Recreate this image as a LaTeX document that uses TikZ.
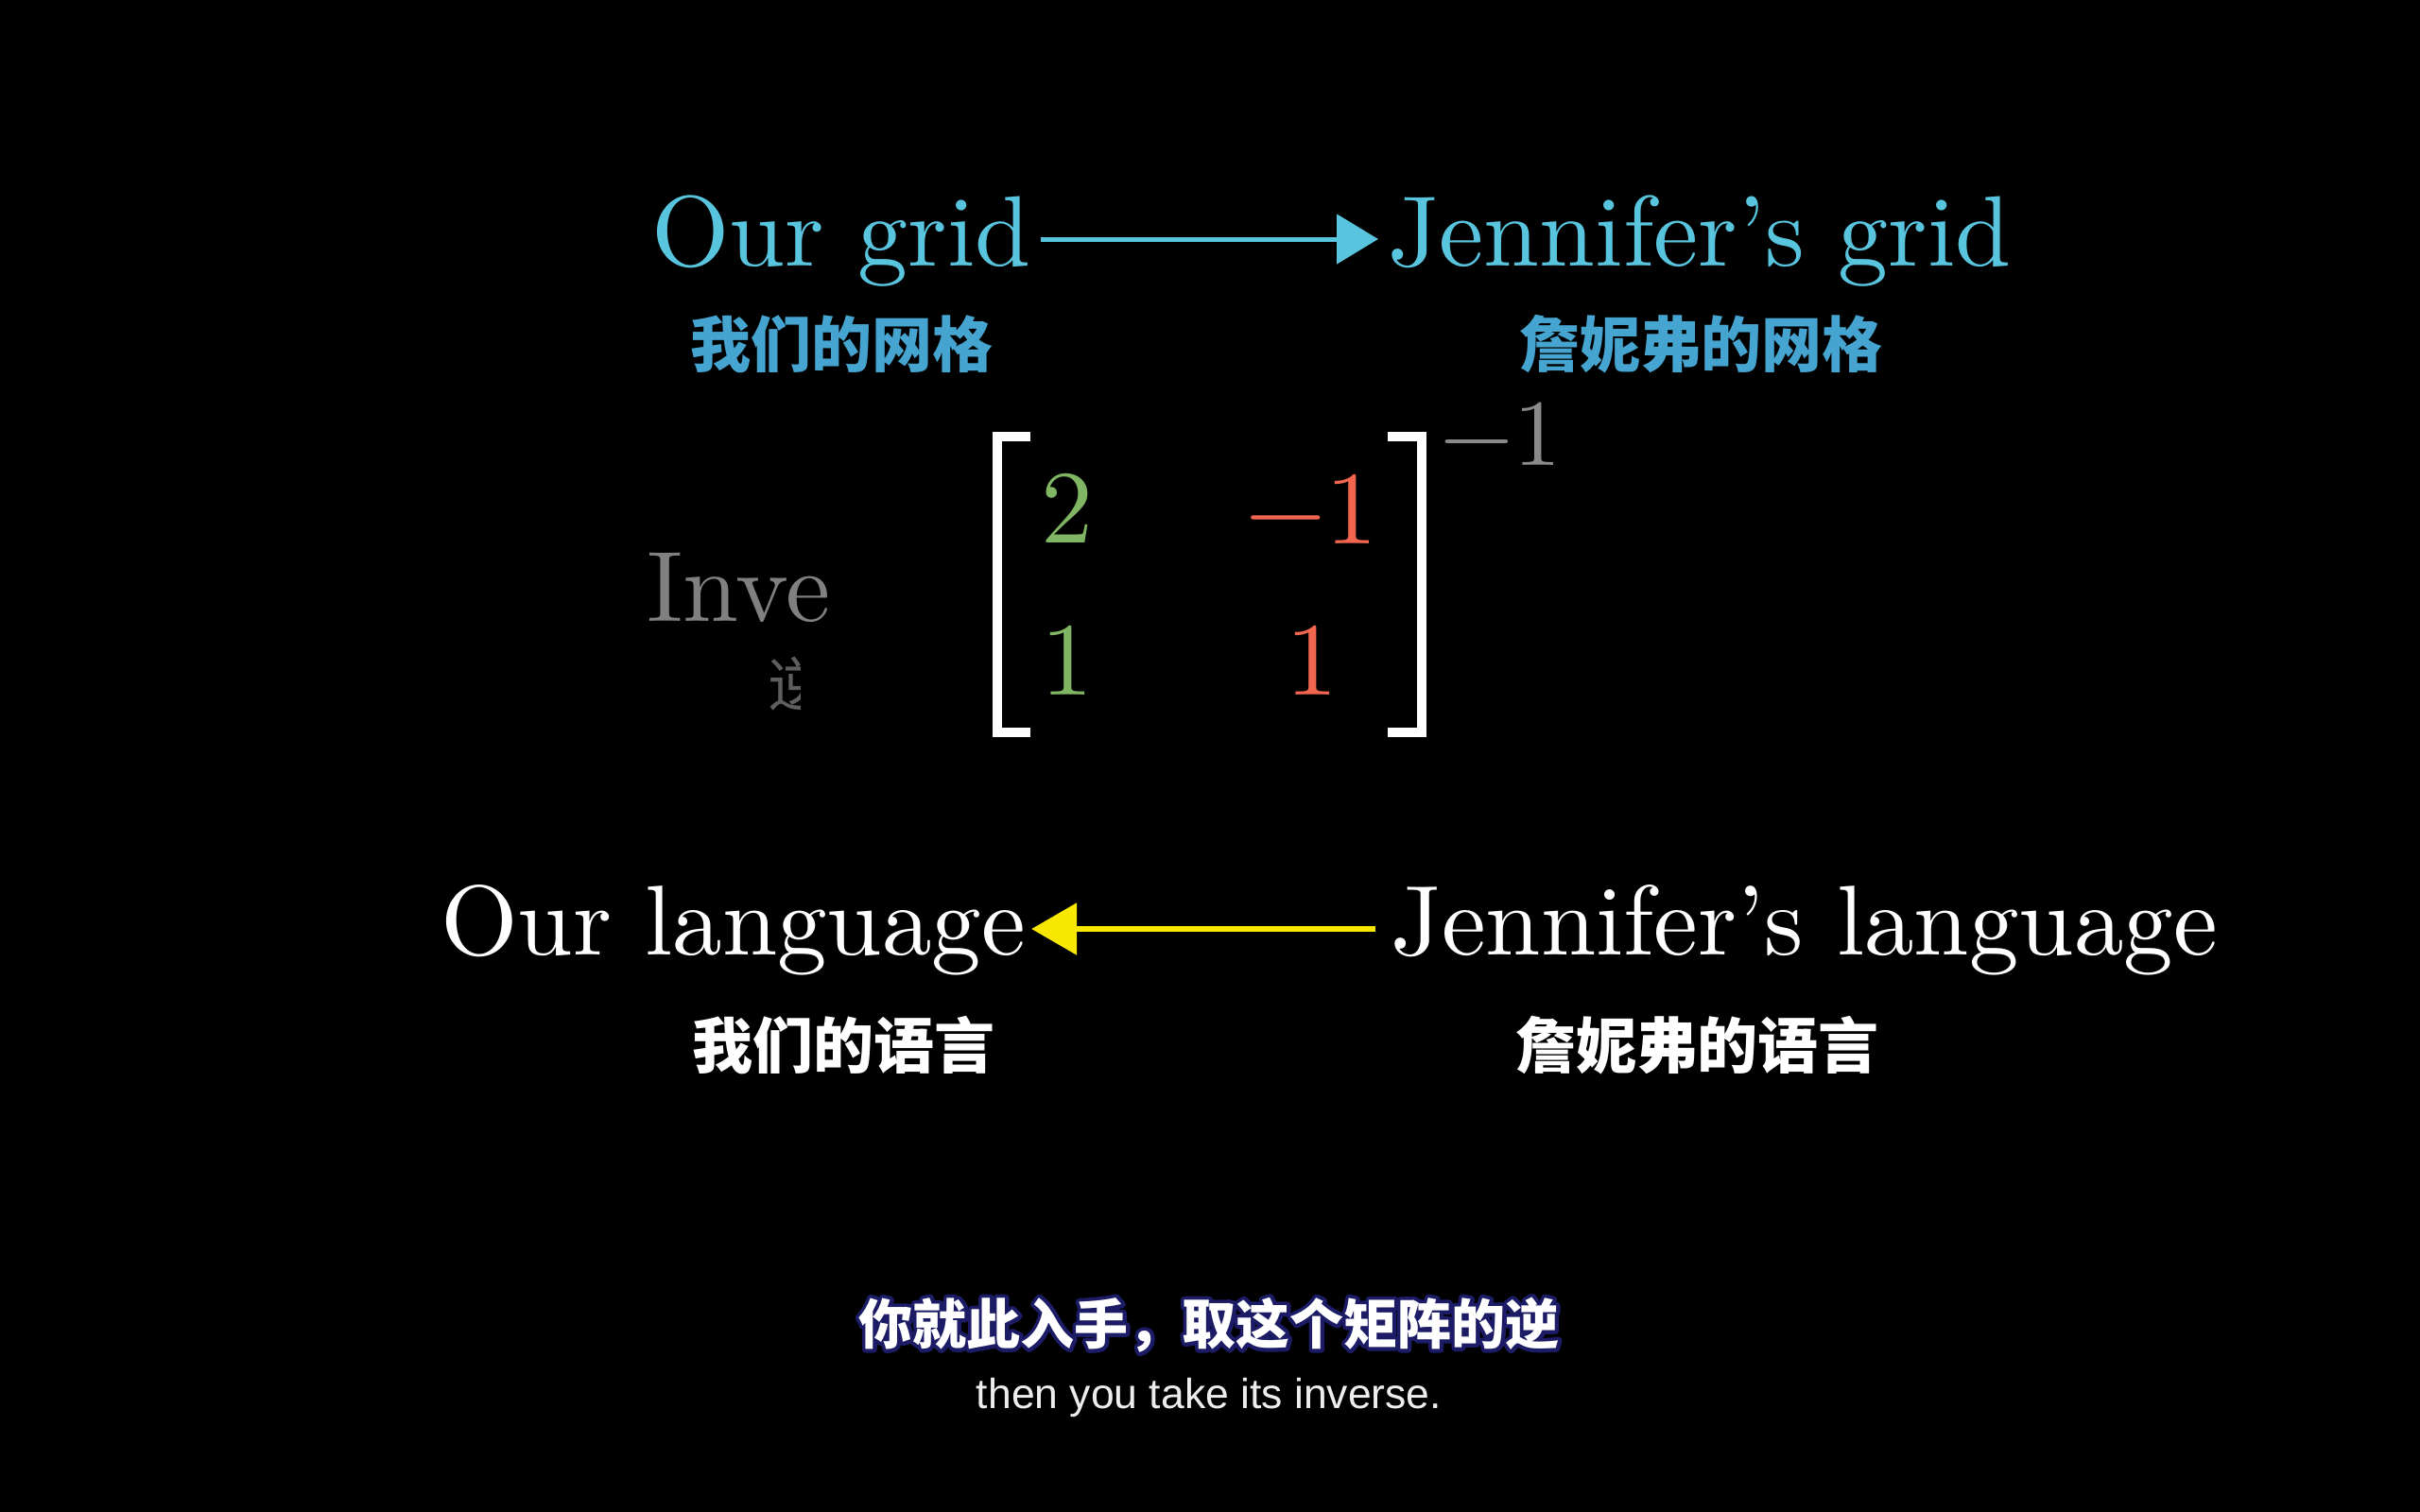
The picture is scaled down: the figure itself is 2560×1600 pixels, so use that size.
\documentclass[tikz,border=0pt]{standalone}
\usepackage{fontspec}
\setmainfont{lmroman10-regular.otf}
\newfontfamily\cjk{Noto Sans CJK SC}
\newfontfamily\subsans{Liberation Sans}
\usetikzlibrary{arrows.meta,calc}
\definecolor{tblue}{HTML}{58C4DD}
\definecolor{lblue}{HTML}{45A5D0}
\definecolor{mgreen}{HTML}{80B564}
\definecolor{mred}{HTML}{F2654E}
\definecolor{sgray}{HTML}{8A8A8A}
\definecolor{igray}{HTML}{808080}
\definecolor{fgray}{HTML}{5E5E5E}
\definecolor{ayellow}{HTML}{F8E800}
\definecolor{glow}{HTML}{1C1C66}
\tikzset{
  big/.style={inner sep=0pt, font=\fontsize{106}{120}\selectfont},
  bigb/.style={inner sep=0pt, font=\fontsize{105}{120}\selectfont},
  entry/.style={inner sep=0pt, font=\fontsize{110}{120}\selectfont, anchor=base},
  cjklab/.style={inner sep=0pt, font=\cjk\bfseries\fontsize{64}{70}\selectfont},
  barrow/.style={draw=tblue, line width=5pt, -{Triangle[length=44pt,width=52pt]}},
  yarrow/.style={draw=ayellow, line width=6pt, -{Triangle[length=48pt,width=54pt]}},
  brack/.style={draw=white, line width=10pt, line cap=butt, line join=miter},
  subcn/.style={inner sep=0pt, font=\cjk\bfseries\fontsize{57}{60}\selectfont},
}
\begin{document}
\begin{tikzpicture}[x=1pt,y=-1pt]
\fill[black] (0,0) rectangle (2560,1600);
\useasboundingbox (0,0) rectangle (2560,1600);

% top row
\node[big, text=tblue, anchor=base west] (og) at (689,281) {Our grid};
\node[big, text=tblue, anchor=base west] (jg) at (1468,281) {Jennifer’s grid};
\draw[barrow, shorten <=10pt, shorten >=10pt] ([yshift=28pt]og.base east) -- ([yshift=28pt]jg.base west);
\node[cjklab, text=lblue] (ogc) at (890,364) {我们的网格};
\node[cjklab, text=lblue] (jgc) at (1799,364) {詹妮弗的网格};

% matrix
\draw[brack] (1090,462) -- (1055,462) -- (1055,775) -- (1090,775);
\draw[brack] (1468,462) -- (1504,462) -- (1504,775) -- (1468,775);
\node[entry, text=mgreen] (a11) at (1129,574) {2};
\node[entry, text=mred, anchor=base east] (a12) at (1458,575) {−1};
\node[entry, text=mgreen] (a21) at (1129,735) {1};
\node[entry, text=mred] (a22) at (1388,735) {1};
\node[inner sep=0pt, font=\fontsize{100}{110}\selectfont, text=sgray, anchor=base west] (sup) at (1523,492) {−1};

% fading label
\begin{scope}
\clip (600,540) rectangle (878,700);
\node[big, text=igray, anchor=base west] (inv) at (684,657) {Inverse};
\end{scope}
\begin{scope}
\clip (800,680) rectangle (846,770);
\node[inner sep=0pt, font=\cjk\fontsize{62}{66}\selectfont, text=fgray, anchor=west] (ni) at (812,724) {逆};
\end{scope}

% bottom row
\node[bigb, text=white, anchor=base west] (ol) at (466,1010) {Our language};
\node[bigb, text=white, anchor=base west] (jl) at (1471,1010) {Jennifer’s language};
\draw[yarrow, shorten <=16pt, shorten >=6pt] ([yshift=27pt]jl.base west) -- ([yshift=27pt]ol.base east);
\node[cjklab, text=white] (olc) at (892,1106) {我们的语言};
\node[cjklab, text=white] (jlc) at (1795,1106) {詹妮弗的语言};

% subtitles
\node[subcn, text=glow] (scg) at (1279,1402) {\special{pdf:literal direct 2 Tr 8 w 1 j}你就此入手，取这个矩阵的逆\special{pdf:literal direct 0 Tr 1 w}};
\node[subcn, text=white] (sc) at (1279,1402) {你就此入手，取这个矩阵的逆};
\node[inner sep=0pt, font=\subsans\fontsize{44.5}{50}\selectfont, text=white!93!black, anchor=base] (se) at (1279,1490) {then you take its inverse.};
\end{tikzpicture}
\end{document}
